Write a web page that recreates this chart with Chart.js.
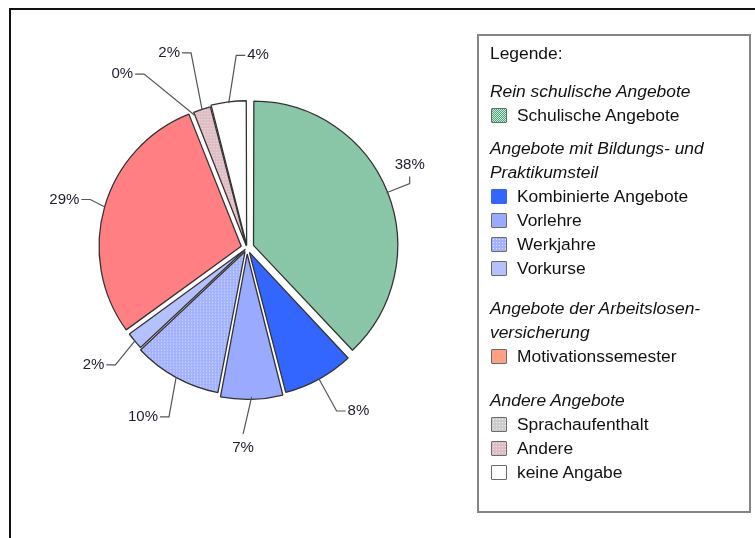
<!DOCTYPE html>
<html>
<head>
<meta charset="utf-8">
<script src="https://cdn.jsdelivr.net/npm/chart.js@4.4.1/dist/chart.umd.min.js"></script>
<style>
  html, body { margin: 0; padding: 0; background: #fff; overflow: hidden; }
  body { width: 755px; height: 538px; position: relative; font-family: "Liberation Sans", Arial, Helvetica, sans-serif; }
  #frame { position: absolute; left: 9px; top: 8px; width: 900px; height: 700px; border: 2px solid #111; }
  #pie { position: absolute; left: 0; top: 0; }
  #legend { position: absolute; left: 477px; top: 34px; width: 274px; height: 479px; box-sizing: border-box;
            border: 2px solid #858585; padding: 5px 0 0 11px; font-size: 17.4px; line-height: 24px; color: #111; }
  #legend .head { font-style: italic; white-space: pre-line; }
  #legend .item { white-space: nowrap; }
  #legend .sw { display: inline-block; width: 14px; height: 13px; border: 1.5px solid #6a6a6a; border-radius: 1px;
                vertical-align: -2px; margin: 0 10px 0 1px; }
</style>
</head>
<body>
<div id="frame"></div>
<canvas id="pie" width="755" height="538"></canvas>
<div id="legend"></div>
<script>
// categories and shares (%)
var categories = ['Schulische Angebote', 'Kombinierte Angebote', 'Vorlehre', 'Werkjahre', 'Vorkurse',
                  'Motivationssemester', 'Sprachaufenthalt', 'Andere', 'keine Angabe'];
var shares = [38, 8, 7, 10, 2, 29, 0, 2, 4];

// legend groups (index into categories)
var groupTitles = ['Rein schulische Angebote', 'Angebote mit Bildungs- und\nPraktikumsteil',
                   'Angebote der Arbeitslosen-\nversicherung', 'Andere Angebote'];
var groupMembers = [[0], [1, 2, 3, 4], [5], [6, 7, 8]];

// small repeating fills like the original dotted / hatched slices
function makeTile(size, base, dot, cells) {
  var c = document.createElement('canvas');
  c.width = size; c.height = size;
  var g = c.getContext('2d');
  g.fillStyle = base; g.fillRect(0, 0, size, size);
  g.fillStyle = dot;
  cells.forEach(function(p) { g.fillRect(p[0], p[1], 1, 1); });
  return c;
}
var tiles = {
  green: makeTile(2, '#cbeAd7', '#48a479', [[0, 0], [1, 1]]),
  werk: makeTile(3, '#a2b2ff', '#dfe5ff', [[1, 1]]),
  andere: makeTile(3, '#dfbdc5', '#f3e4e8', [[1, 1]]),
  sprach: makeTile(3, '#cccccc', '#eeeeee', [[1, 1]])
};
var ctx = document.getElementById('pie').getContext('2d');
function pat(t) { return ctx.createPattern(t, 'repeat'); }

var sliceFill = [pat(tiles.green), '#3366ff', '#99aaff', pat(tiles.werk), '#b3c2ff',
                 '#ff7f82', pat(tiles.sprach), pat(tiles.andere), '#ffffff'];
var swatchFill = ['url(' + tiles.green.toDataURL() + ')', '#3366ff', '#99aaff', 'url(' + tiles.werk.toDataURL() + ')', '#b3c2ff',
                  '#ffa084', 'url(' + tiles.sprach.toDataURL() + ')', 'url(' + tiles.andere.toDataURL() + ')', '#ffffff'];

// percentage labels with bent leader lines
var pctLabels = {
  id: 'pctLabels',
  afterDatasetsDraw: function(chart, args, opts) {
    var c = chart.ctx;
    var meta = chart.getDatasetMeta(0);
    c.save();
    c.font = '15px "Liberation Sans", Arial, sans-serif';
    c.strokeStyle = '#555';
    c.lineWidth = 1.2;
    c.fillStyle = '#1d1d2b';
    meta.data.forEach(function(arc, i) {
      var t = opts.tweaks[i] || {};
      var mid = (arc.startAngle + arc.endAngle) / 2;
      var r = arc.outerRadius;
      var off = (arc.options.offset || 0) / 4;
      var ax = arc.x + Math.cos(mid) * (r + off + 1);
      var ay = arc.y + Math.sin(mid) * (r + off + 1);
      var la = mid + (t.shift || 0) * Math.PI / 180;
      var er = r + (t.extra !== undefined ? t.extra : 44);
      var ex = arc.x + Math.cos(la) * er;
      var ey = arc.y + Math.sin(la) * er;
      var pos = t.pos || (Math.cos(la) < 0 ? 'left' : 'right');
      var txt = shares[i] + '%';
      c.beginPath();
      c.moveTo(ax, ay);
      c.lineTo(ex, ey);
      if (pos === 'left') {
        c.lineTo(ex - 9, ey); c.stroke();
        c.textAlign = 'right'; c.textBaseline = 'middle';
        c.fillText(txt, ex - 11, ey);
      } else if (pos === 'right') {
        c.lineTo(ex + 9, ey); c.stroke();
        c.textAlign = 'left'; c.textBaseline = 'middle';
        c.fillText(txt, ex + 11, ey);
      } else if (pos === 'above') {
        c.lineTo(ex, ey - 7); c.stroke();
        c.textAlign = 'center'; c.textBaseline = 'middle';
        c.fillText(txt, ex, ey - 19);
      } else {
        c.stroke();
        c.textAlign = 'center'; c.textBaseline = 'middle';
        c.fillText(txt, ex, ey + 14);
      }
    });
    c.restore();
  }
};

new Chart(ctx, {
  type: 'pie',
  data: {
    labels: categories,
    datasets: [{
      data: shares,
      backgroundColor: sliceFill,
      borderColor: '#333',
      borderWidth: 1.3,
      offset: [28, 20, 24, 16, 8, 24, 0, 8, 12]
    }]
  },
  options: {
    responsive: false,
    animation: false,
    radius: 142,
    layout: { padding: { left: 0, top: 0, right: 261, bottom: 42 } },
    events: [],
    plugins: {
      legend: { display: false },
      tooltip: { enabled: false },
      pctLabels: {
        tweaks: {
          0: { extra: 33, pos: 'above' },
          2: { shift: 3, pos: 'below' },
          3: { shift: -4 },
          4: { extra: 34, shift: -2 },
          5: { extra: 22, shift: 1 },
          6: { extra: 60, shift: -9 },
          7: { extra: 61, shift: 2 },
          8: { extra: 51, shift: 4, pos: 'right' }
        }
      }
    }
  },
  plugins: [pctLabels]
});

// legend box, built from the same arrays
var legendEl = document.getElementById('legend');
var groupGap = [14, 9, 16, 20];
var html = '<div>Legende:</div>';
groupTitles.forEach(function(title, g) {
  html += '<div class="head" style="margin-top:' + groupGap[g] + 'px">' + title + '</div>';
  groupMembers[g].forEach(function(i) {
    var border = i === 1 ? 'border-color:#3366ff;' : '';
    html += '<div class="item"><span class="sw" style="background:' + swatchFill[i] + ';' + border + '"></span>' + categories[i] + '</div>';
  });
});
legendEl.innerHTML = html;
</script>
</body>
</html>
